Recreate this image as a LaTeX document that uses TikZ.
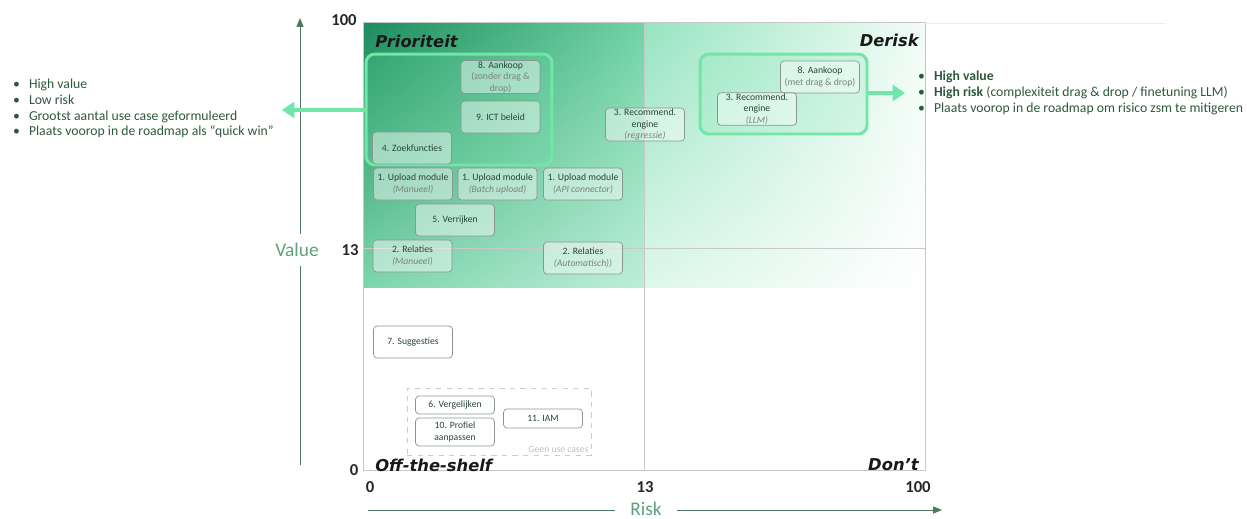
\documentclass[tikz,border=0pt]{standalone}
\usepackage{fontspec}
\setmainfont{Carlito}
\newfontfamily\quadfont{DejaVu Sans}
\usetikzlibrary{arrows.meta,positioning,shadings}

\definecolor{gDark}{RGB}{28,140,92}
\definecolor{gMidA}{RGB}{112,212,165}
\definecolor{gMidB}{RGB}{125,214,172}
\definecolor{gPale}{RGB}{190,238,216}
\definecolor{gRA}{RGB}{150,228,192}
\definecolor{gRB}{RGB}{242,252,247}
\definecolor{gRC}{RGB}{222,247,235}
\definecolor{hlgreen}{RGB}{112,230,168}
\definecolor{boxgray}{RGB}{140,150,145}
\definecolor{txtdark}{RGB}{40,70,52}
\definecolor{txtgray}{RGB}{120,132,126}
\definecolor{listgreen}{RGB}{45,88,60}
\definecolor{axisgreen}{RGB}{80,120,95}
\definecolor{lblgreen}{RGB}{95,160,127}
\definecolor{gridgray}{RGB}{200,200,200}

\newcommand{\subln}[1]{{\color{txtgray}\itshape #1}}
\newcommand{\subrm}[1]{{\color{txtgray}#1}}
\newcommand{\bul}{\makebox[9pt][l]{\textbullet}}

\begin{document}
\begin{tikzpicture}[x=0.02cm,y=-0.02cm,
	uc/.style={draw=boxgray, rounded corners=2pt, fill=white, fill opacity=0.45, text opacity=1, minimum width=1.58cm, minimum height=0.64cm, align=center, inner sep=0.5pt, text=txtdark, font=\fontsize{5.5}{6.5}\selectfont},
	hl/.style={draw=hlgreen, line width=1.7pt, rounded corners=5pt, fill=hlgreen, fill opacity=0.18},
	hlarrow/.style={draw=hlgreen, line width=2.6pt, -{Triangle[length=7pt,width=9pt]}},
	tick/.style={font=\fontsize{9.5}{10}\bfseries, text=black!85},
	quad/.style={font=\quadfont\fontsize{9.3}{10}\bfseries\itshape, text=black!90, inner sep=0pt},
	axlbl/.style={font=\fontsize{11}{12}\selectfont, text=lblgreen, fill=white, inner xsep=9pt},
	blist/.style={align=left, anchor=west, text=listgreen, font=\fontsize{7.8}{9}\selectfont}]
	\useasboundingbox (0,0) rectangle (1247,518);
	% coloured quadrant background
	\shade[upper left=gDark, upper right=gMidA, lower left=gMidB, lower right=gPale] (363,22) rectangle (644,287);
	\shade[upper left=gRA, upper right=gRB, lower left=gRC, lower right=white] (644,22) rectangle (925,287);
	% frame and grid
	\draw [gridgray] (363,22) rectangle (925,470);
	\draw [gridgray] (644,22) -- (644,470) (363,248) -- (925,248);
	\draw [black!8] (925,23) -- (1165,23);
	% axes
	\coordinate (vlo) at (300,465);
	\coordinate (vhi) at (300,18);
	\coordinate (hlo) at (368,510);
	\coordinate (hhi) at (942,510);
	\draw [axisgreen, -{Triangle[length=5pt,width=4pt]}] (vlo) -- (vhi);
	\draw [axisgreen, -{Triangle[length=5pt,width=4pt]}] (hlo) -- (hhi);
	\node (value) at (297,250) [axlbl, inner ysep=5pt] {Value};
	\node (risk) at (646,509) [axlbl, inner ysep=0.5pt] {Risk};
	% tick labels
	\node (t100v) at (344,20) [tick] {100};
	\node (t13v) at (350,250) [tick] {13};
	\node (t0v) at (354,470) [tick] {0};
	\node (t0h) at (370,487) [tick] {0};
	\node (t13h) at (645,487) [tick] {13};
	\node (t100h) at (918,487) [tick] {100};
	% quadrant names
	\node (prio) at (375,41) [quad, anchor=west] {Prioriteit};
	\node (derisk) at (919,40) [quad, anchor=east] {Derisk};
	\node (ots) at (375,465) [quad, anchor=west] {Off-the-shelf};
	\node (dont) at (919,465) [quad, anchor=east] {Don’t};
	% highlighted groups
	\node (hlL) at (459,109.5) [hl, minimum width=3.72cm, minimum height=2.22cm] {};
	\node (hlR) at (783.5,94) [hl, minimum width=3.34cm, minimum height=1.6cm] {};
	% use cases
	\node (aankZ) at (500.5,77) [uc] {8. Aankoop\\\subrm{(zonder drag \&}\\\subrm{drop)}};
	\node (ict) at (500.5,117) [uc] {9. ICT beleid};
	\node (zoek) at (412,148) [uc] {4. Zoekfuncties};
	\node (upM) at (413,184) [uc] {1. Upload module\\\subln{(Manueel)}};
	\node (upB) at (497.5,184) [uc] {1. Upload module\\\subln{(Batch upload)}};
	\node (upA) at (583,184) [uc] {1. Upload module\\\subln{(API connector)}};
	\node (verr) at (455,220) [uc] {5. Verrijken};
	\node (relM) at (412.5,256) [uc] {2. Relaties\\\subln{(Manueel)}};
	\node (relA) at (583,258) [uc] {2. Relaties\\\subln{(Automatisch))}};
	\node (recR) at (645,124.5) [uc, minimum height=0.66cm] {3. Recommend.\\engine\\\subln{(regressie)}};
	\node (aankM) at (820,77) [uc] {8. Aankoop\\\subrm{(met drag \& drop)}};
	\node (recL) at (757,109) [uc] {3. Recommend.\\engine\\\subln{(LLM)}};
	\node (sugg) at (413,342) [uc] {7. Suggesties};
	% no use cases
	\node (geen) at (499,421.5) [draw=black!20, dashed, minimum width=3.68cm, minimum height=1.34cm] {};
	\node (geenlbl) at (geen.south east) [anchor=south east, text=black!25, font=\fontsize{5.5}{6.5}\selectfont, inner sep=1.5pt] {Geen use cases};
	\node (verg) at (455,405) [uc, minimum height=0.36cm] {6. Vergelijken};
	\node (prof) at (455,432) [uc, minimum height=0.56cm] {10. Profiel\\aanpassen};
	\node (iam) at (543,418.5) [uc, minimum height=0.38cm] {11. IAM};
	% arrows to the explanations
	\coordinate (lend) at (282,110);
	\coordinate (rend) at (905,93);
	\draw [hlarrow] (hlL.west |- lend) -- (lend);
	\draw [hlarrow] (hlR.east |- rend) -- (rend);
	\node (listL) at (7,108.5) [blist] {\bul High value\\\bul Low risk\\\bul Grootst aantal use case geformuleerd\\\bul Plaats voorop in de roadmap als “quick win”};
	\node (listR) at (912,93) [blist] {\bul\textbf{High value}\\\bul\textbf{High risk} (complexiteit drag \& drop / finetuning LLM)\\\bul Plaats voorop in de roadmap om risico zsm te mitigeren};
\end{tikzpicture}
\end{document}
